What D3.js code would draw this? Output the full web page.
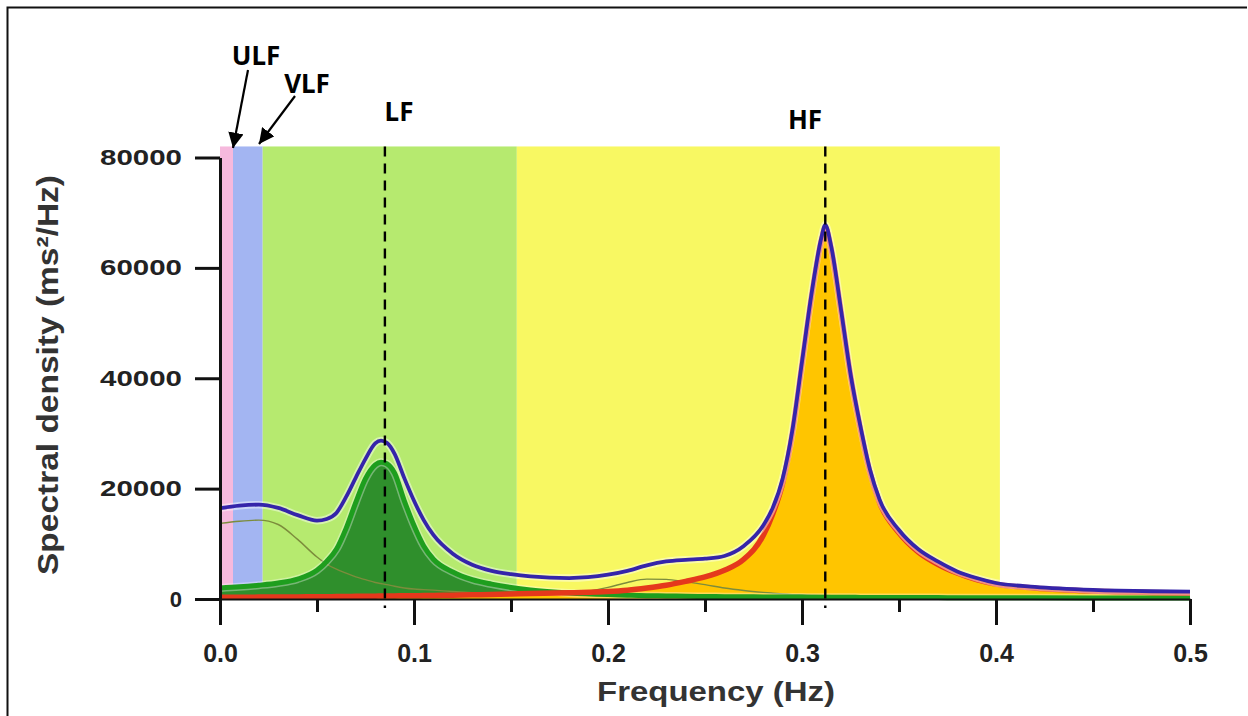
<!DOCTYPE html>
<html><head><meta charset="utf-8">
<script src="https://cdn.jsdelivr.net/npm/d3@7"></script>
<style>
html,body{margin:0;padding:0;background:#fff;}
svg{display:block;}
</style></head>
<body>
<svg id="chart" width="1248" height="716"></svg>
<script>
// ---- data ----
const freq = [0, 0.01, 0.02, 0.03, 0.04, 0.05, 0.055, 0.06, 0.065, 0.07, 0.075, 0.08, 0.083, 0.086, 0.09, 0.095, 0.1, 0.105, 0.11, 0.12, 0.13, 0.14, 0.15, 0.16, 0.18, 0.2, 0.21, 0.22, 0.23, 0.24, 0.25, 0.26, 0.27, 0.28, 0.285, 0.29, 0.295, 0.3, 0.305, 0.31, 0.312, 0.315, 0.32, 0.325, 0.33, 0.335, 0.34, 0.35, 0.36, 0.37, 0.38, 0.39, 0.4, 0.42, 0.45, 0.48, 0.5];
const totalPSD = [16450, 16900, 17100, 16500, 15200, 14200, 14500, 15600, 18500, 22000, 25400, 28200, 28700, 28300, 26300, 21900, 17800, 14300, 11600, 8200, 6200, 5100, 4500, 4100, 3800, 4400, 5100, 6100, 6800, 7100, 7300, 7800, 9600, 13300, 16600, 21800, 30500, 43000, 55500, 65500, 67800, 64000, 52700, 40800, 31500, 23500, 18000, 12500, 9000, 6800, 5000, 3800, 2900, 2200, 1650, 1400, 1330];
const lfPSD = [2000, 2200, 2500, 2900, 3600, 5200, 6800, 9000, 12800, 17500, 21800, 24300, 24800, 24500, 22800, 17800, 13300, 9600, 7200, 4900, 3500, 2700, 2100, 1650, 1100, 800, 700, 600, 550, 500, 450, 420, 400, 380, 370, 360, 350, 340, 330, 320, 320, 310, 300, 300, 290, 290, 280, 270, 260, 250, 240, 230, 220, 210, 200, 190, 180];
const hfPSD = [300, 320, 340, 360, 380, 400, 420, 440, 460, 480, 500, 520, 530, 540, 560, 580, 600, 620, 650, 700, 760, 830, 900, 980, 1150, 1350, 1600, 2000, 2500, 3200, 4000, 5200, 7200, 11500, 15500, 21000, 30000, 42500, 55000, 65000, 67300, 63500, 52300, 40500, 31000, 23000, 17500, 12000, 8500, 6300, 4700, 3500, 2700, 2000, 1450, 1200, 1100];
const minorPSD = [13700, 14100, 14300, 13500, 10800, 7600, 6300, 5400, 4700, 4000, 3500, 3000, 2800, 2600, 2300, 2000, 1800, 1700, 1600, 1350, 1150, 1000, 900, 800, 1000, 2100, 3000, 3600, 3550, 3100, 2600, 2000, 1550, 1200, 1050, 900, 800, 750, 700, 650, 640, 620, 600, 580, 560, 540, 520, 500, 480, 460, 440, 420, 400, 380, 350, 320, 300];

const bandNames = ["ULF", "VLF", "LF", "HF"];
const bandStart = [0, 0.0067, 0.022, 0.153];
const bandEnd = [0.0067, 0.022, 0.153, 0.402];
const bandTop = 82000;
const peakFreqs = [0.085, 0.312];

const xTicksMajor = [0, 0.1, 0.2, 0.3, 0.4, 0.5];
const xTicksMinor = [0.05, 0.15, 0.25, 0.35, 0.45];
const yTicks = [0, 20000, 40000, 60000, 80000];

// ---- drawing ----
const svg = d3.select("#chart");
const x = d3.scaleLinear().domain([0, 0.5]).range([220, 1190]);
const y = d3.scaleLinear().domain([0, 80000]).range([599, 157.5]);

const bandColors = ["#f6b9dd", "#a3b5f2", "#b6ea6f", "#f8f862"];

// border
svg.append("path").attr("d", "M7.5,716 L7.5,7.5 L1247,7.5").attr("fill", "none").attr("stroke", "#111").attr("stroke-width", 2);

// bands
svg.append("g").selectAll("rect").data(bandNames).join("rect")
  .attr("x", (d, i) => x(bandStart[i]))
  .attr("width", (d, i) => x(bandEnd[i]) - x(bandStart[i]))
  .attr("y", y(bandTop))
  .attr("height", y(0) - y(bandTop))
  .attr("fill", (d, i) => bandColors[i]);

const pts = s => freq.map((f, i) => [f, s[i]]);
const area = d3.area().x(d => x(d[0])).y0(y(0)).y1(d => y(d[1])).curve(d3.curveMonotoneX);
const line = d3.line().x(d => x(d[0])).y(d => y(d[1])).curve(d3.curveMonotoneX);

svg.append("path").attr("d", area(pts(lfPSD))).attr("fill", "#2f8f2c");
svg.append("path").attr("d", area(pts(hfPSD))).attr("fill", "#ffc500");

svg.append("path").attr("d", line(pts(minorPSD))).attr("fill", "none").attr("stroke", "#7c8c3c").attr("stroke-width", 1.4);

svg.append("path").attr("d", line(pts(lfPSD))).attr("fill", "none").attr("stroke", "rgba(255,255,255,0.35)").attr("stroke-width", 8);
svg.append("path").attr("d", line(pts(lfPSD))).attr("fill", "none").attr("stroke", "#1e9e1e").attr("stroke-width", 5);
svg.append("path").attr("d", line(pts(hfPSD))).attr("fill", "none").attr("stroke", "#e5381c").attr("stroke-width", 5.5);
svg.append("path").attr("d", line(pts(totalPSD))).attr("fill", "none").attr("stroke", "rgba(255,255,255,0.45)").attr("stroke-width", 7.5);
svg.append("path").attr("d", line(pts(totalPSD))).attr("fill", "none").attr("stroke", "#3524aa").attr("stroke-width", 3.8);

// dashed peak markers
svg.append("g").selectAll("line").data(peakFreqs).join("line")
  .attr("x1", d => x(d)).attr("x2", d => x(d))
  .attr("y1", y(bandTop)).attr("y2", y(0) + 9)
  .attr("stroke", "#000").attr("stroke-width", 2.4).attr("stroke-dasharray", "10,7");

// axes
const fontAxis = "'Liberation Sans', Arial, sans-serif";
const xAxisMinor = d3.axisBottom(x).tickValues(xTicksMinor).tickSize(13).tickFormat("").tickSizeOuter(0);
svg.append("g").attr("transform", `translate(0,${y(0)})`).call(xAxisMinor)
  .call(g => g.select(".domain").remove())
  .call(g => g.selectAll("line").attr("stroke", "#111").attr("stroke-width", 3));
const xAxis = d3.axisBottom(x).tickValues(xTicksMajor).tickSize(26).tickPadding(19).tickFormat(d3.format(".1f")).tickSizeOuter(0);
svg.append("g").attr("transform", `translate(0,${y(0)})`).call(xAxis)
  .call(g => g.select(".domain").attr("stroke", "#111").attr("stroke-width", 2))
  .call(g => g.selectAll("line").attr("stroke", "#111").attr("stroke-width", 3))
  .call(g => g.selectAll("text").attr("font-family", fontAxis).attr("font-weight", "bold").attr("font-size", 25).attr("fill", "#222"));

const yAxis = d3.axisLeft(y).tickValues(yTicks).tickSize(25).tickPadding(13).tickFormat(d3.format("d")).tickSizeOuter(0);
svg.append("g").attr("transform", `translate(${x(0)},0)`).call(yAxis)
  .call(g => g.select(".domain").attr("stroke", "#111").attr("stroke-width", 3))
  .call(g => g.selectAll("line").attr("stroke", "#111").attr("stroke-width", 3))
  .call(g => g.selectAll("text").attr("font-family", fontAxis).attr("font-weight", "bold").attr("font-size", 22).attr("fill", "#222")
     .attr("textLength", 82).attr("lengthAdjust", "spacingAndGlyphs")
     .each(function(d){ if (d === 0) d3.select(this).attr("textLength", null); }));

// axis titles
svg.append("text").attr("x", 716).attr("y", 701).attr("text-anchor", "middle")
  .attr("font-family", fontAxis).attr("font-weight", "bold").attr("font-size", 28).attr("fill", "#333")
  .attr("textLength", 238).attr("lengthAdjust", "spacingAndGlyphs")
  .text("Frequency (Hz)");
svg.append("text").attr("transform", "translate(58,375) rotate(-90)").attr("text-anchor", "middle")
  .attr("font-family", fontAxis).attr("font-weight", "bold").attr("font-size", 30).attr("fill", "#333")
  .attr("textLength", 400).attr("lengthAdjust", "spacingAndGlyphs")
  .text("Spectral density (ms²/Hz)");

// band labels
const fontLab = "'Noto Sans', 'Open Sans', sans-serif";
const labelX = [256, 307, 399, 805];
const labelY = [65, 93, 121, 129];
svg.append("g").selectAll("text").data(bandNames).join("text")
  .attr("x", (d, i) => labelX[i]).attr("y", (d, i) => labelY[i])
  .attr("text-anchor", "middle").attr("font-family", fontLab).attr("font-weight", "bold").attr("font-size", 26).attr("fill", "#000")
  .text(d => d);

// arrows
svg.append("defs").append("marker").attr("id", "ah").attr("viewBox", "0 0 10 10")
  .attr("refX", 10).attr("refY", 5).attr("markerWidth", 7).attr("markerHeight", 7).attr("markerUnits", "strokeWidth")
  .attr("orient", "auto").append("path").attr("d", "M0,0 L10,5 L0,10 Z").attr("fill", "#000");
const arrows = [[248, 70, 233, 148], [295, 96, 259, 144]];
svg.append("g").selectAll("line").data(arrows).join("line")
  .attr("x1", d => d[0]).attr("y1", d => d[1]).attr("x2", d => d[2]).attr("y2", d => d[3])
  .attr("stroke", "#000").attr("stroke-width", 2.2).attr("marker-end", "url(#ah)");
</script>
</body></html>
